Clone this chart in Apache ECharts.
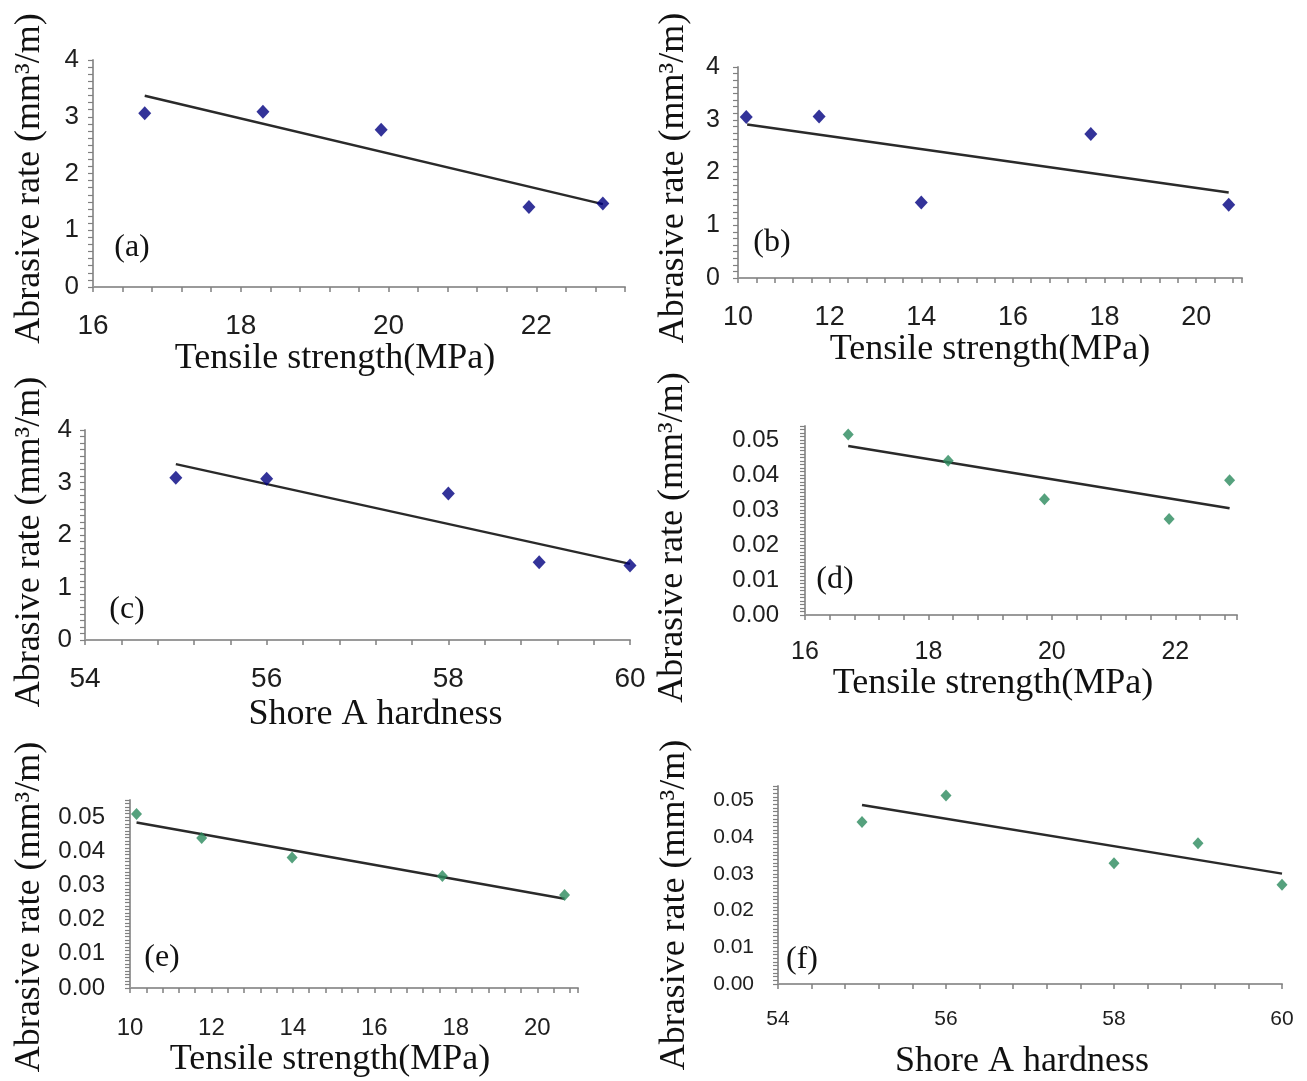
<!DOCTYPE html>
<html>
<head>
<meta charset="utf-8">
<script src="https://cdn.jsdelivr.net/npm/echarts@6/dist/echarts.min.js"></script>
<style>
  html, body { margin: 0; padding: 0; background: #ffffff; }
  #chart { width: 1307px; height: 1081px; }
</style>
</head>
<body>
<div id="chart"></div>
<script>
// ---------- data ----------
// (a) tensile strength vs abrasive rate (blue)
const xA = [16.7, 18.3, 19.9, 21.9, 22.9];
const yA = [3.06, 3.09, 2.77, 1.41, 1.47];
const fitAx = [16.7, 22.9];
const fitAy = [3.37, 1.46];
// (b)
const xB = [10.18, 11.77, 14.0, 17.7, 20.71];
const yB = [3.05, 3.06, 1.43, 2.73, 1.39];
const fitBx = [10.2, 20.71];
const fitBy = [2.91, 1.62];
// (c) Shore A hardness
const xC = [55, 56, 58, 59, 60];
const yC = [3.09, 3.07, 2.79, 1.48, 1.42];
const fitCx = [55, 60];
const fitCy = [3.35, 1.45];
// (d) (green)
const xD = [16.7, 18.32, 19.88, 21.9, 22.88];
const yD = [0.0516, 0.0441, 0.0331, 0.0274, 0.0385];
const fitDx = [16.7, 22.88];
const fitDy = [0.0483, 0.0305];
// (e)
const xE = [10.16, 11.76, 13.98, 17.67, 20.67];
const yE = [0.0509, 0.0439, 0.0382, 0.0328, 0.0272];
const fitEx = [10.16, 20.67];
const fitEy = [0.0484, 0.0261];
// (f)
const xF = [55, 56, 58, 59, 60];
const yF = [0.0442, 0.0514, 0.0329, 0.0384, 0.0271];
const fitFx = [55, 60];
const fitFy = [0.0488, 0.0301];

const panelLabels = ['(a)', '(b)', '(c)', '(d)', '(e)', '(f)'];
const xNames = ['Tensile strength(MPa)', 'Tensile strength(MPa)', 'Shore A hardness',
                'Tensile strength(MPa)', 'Tensile strength(MPa)', 'Shore A hardness'];
const yName = 'Abrasive rate (mm\u00B3/m)';

// ---------- styling / layout ----------
const BLUE = '#00007f';
const GREEN = '#2b8a5c';
const AXIS = '#9a9a9a';
const LABEL = '#1e1e1e';
const SERIF = '"Liberation Serif", "Times New Roman", serif';
const SANS = '"Liberation Sans", Arial, sans-serif';

const panels = [
  { x: xA, y: yA, fx: fitAx, fy: fitAy, color: BLUE, sym: [13, 14],
    grid: { left: 93, top: 60, width: 532, height: 227 },
    xr: [16, 23.2], yr: [0, 4], yStep: 0.125, yLab: 1, yDec: 0,
    xFont: 28, yFont: 26, xMargin: 25, yMargin: 14,
    xGap: 50, xPad: [0, 48, 0, 0], yGap: 45, yPad: [0, 10, 0, 0],
    lab: [132, 248] },
  { x: xB, y: yB, fx: fitBx, fy: fitBy, color: BLUE, sym: [13, 14],
    grid: { left: 738, top: 67, width: 504, height: 211 },
    xr: [10, 21], yr: [0, 4], yStep: 0.125, yLab: 1, yDec: 0,
    xFont: 27, yFont: 25, xMargin: 26, yMargin: 18,
    xGap: 52, xPad: [0, 0, 0, 0], yGap: 46, yPad: [0, 11, 0, 0],
    lab: [772, 243] },
  { x: xC, y: yC, fx: fitCx, fy: fitCy, color: BLUE, sym: [13, 14],
    grid: { left: 85, top: 430, width: 545, height: 210 },
    xr: [54, 60], yr: [0, 4], yStep: 0.125, yLab: 1, yDec: 0,
    xFont: 28, yFont: 26, xMargin: 25, yMargin: 13,
    xGap: 57, xPad: [0, 0, 0, 36], yGap: 37, yPad: [0, 14, 0, 0],
    lab: [127, 610] },
  { x: xD, y: yD, fx: fitDx, fy: fitDy, color: GREEN, sym: [11, 12],
    grid: { left: 805, top: 426, width: 432, height: 189 },
    xr: [16, 23], yr: [0, 0.054], yStep: 0.001, yLab: 0.01, yDec: 2,
    xFont: 25, yFont: 24, xMargin: 25, yMargin: 26,
    xGap: 44, xPad: [0, 56, 0, 0], yGap: 114, yPad: [0, 34, 0, 0],
    lab: [835, 580] },
  { x: xE, y: yE, fx: fitEx, fy: fitEy, color: GREEN, sym: [11, 12],
    grid: { left: 130, top: 800, width: 448, height: 188 },
    xr: [10, 21], yr: [0, 0.055], yStep: 0.001, yLab: 0.01, yDec: 2,
    xFont: 24, yFont: 24, xMargin: 28, yMargin: 25,
    xGap: 54, xPad: [0, 48, 0, 0], yGap: 82, yPad: [0, 26, 0, 0],
    lab: [162, 958] },
  { x: xF, y: yF, fx: fitFx, fy: fitFy, color: GREEN, sym: [11, 12],
    grid: { left: 778, top: 786, width: 504, height: 198 },
    xr: [54, 60], yr: [0, 0.054], yStep: 0.001, yLab: 0.01, yDec: 2,
    xFont: 21, yFont: 21, xMargin: 25, yMargin: 24,
    xGap: 60, xPad: [0, 16, 0, 0], yGap: 85, yPad: [0, 40, 0, 0],
    lab: [802, 960] }
];

function isMultiple(v, step) {
  const q = v / step;
  return Math.abs(q - Math.round(q)) < 1e-6;
}

const grids = [], xAxes = [], yAxes = [], series = [], graphics = [];

panels.forEach((p, i) => {
  grids.push(Object.assign({ containLabel: false, outerBoundsMode: 'none' }, p.grid));
  xAxes.push({
    type: 'value', gridIndex: i, min: p.xr[0], max: p.xr[1], interval: 0.4,
    name: xNames[i], nameLocation: 'middle', nameGap: p.xGap,
    nameTextStyle: { fontFamily: SERIF, fontSize: 36, color: '#111', padding: p.xPad },
    axisLine: { show: true, onZero: false, lineStyle: { color: AXIS, width: 2 } },
    axisTick: { show: true, length: 5, lineStyle: { color: '#808080', width: 1.5 } },
    axisLabel: {
      margin: p.xMargin, fontFamily: SANS, fontSize: p.xFont, color: LABEL,
      showMinLabel: true, showMaxLabel: true,
      formatter: v => isMultiple(v, 2) ? String(Math.round(v)) : ''
    },
    splitLine: { show: false }
  });
  yAxes.push({
    type: 'value', gridIndex: i, min: p.yr[0], max: p.yr[1], interval: p.yStep,
    name: yName, nameLocation: 'middle', nameGap: p.yGap,
    nameTextStyle: { fontFamily: SERIF, fontSize: 36, color: '#111', padding: p.yPad },
    axisLine: { show: true, onZero: false, lineStyle: { color: AXIS, width: 2 } },
    axisTick: { show: true, length: 5, lineStyle: { color: '#808080', width: 1.2 } },
    axisLabel: {
      margin: p.yMargin, fontFamily: SANS, fontSize: p.yFont, color: LABEL,
      formatter: v => isMultiple(v, p.yLab) ? v.toFixed(p.yDec) : ''
    },
    splitLine: { show: false }
  });
  series.push({
    type: 'line', xAxisIndex: i, yAxisIndex: i,
    data: p.fx.map((xv, k) => [xv, p.fy[k]]),
    showSymbol: false, symbol: 'none', silent: true,
    lineStyle: { color: '#2a2a2a', width: 2.5 }, z: 2
  });
  series.push({
    type: 'scatter', xAxisIndex: i, yAxisIndex: i,
    data: p.x.map((xv, k) => [xv, p.y[k]]),
    symbol: 'diamond', symbolSize: p.sym,
    itemStyle: { color: p.color }, z: 3
  });
  graphics.push({
    type: 'text', x: p.lab[0], y: p.lab[1],
    style: { text: panelLabels[i], fontFamily: SERIF, fontSize: 32, fill: '#111',
             textAlign: 'center', textVerticalAlign: 'middle' }
  });
});

const chart = echarts.init(document.getElementById('chart'), null, { renderer: 'canvas' });
chart.setOption({
  backgroundColor: '#ffffff',
  animation: false,
  grid: grids,
  xAxis: xAxes,
  yAxis: yAxes,
  series: series,
  graphic: graphics
});
</script>
</body>
</html>
